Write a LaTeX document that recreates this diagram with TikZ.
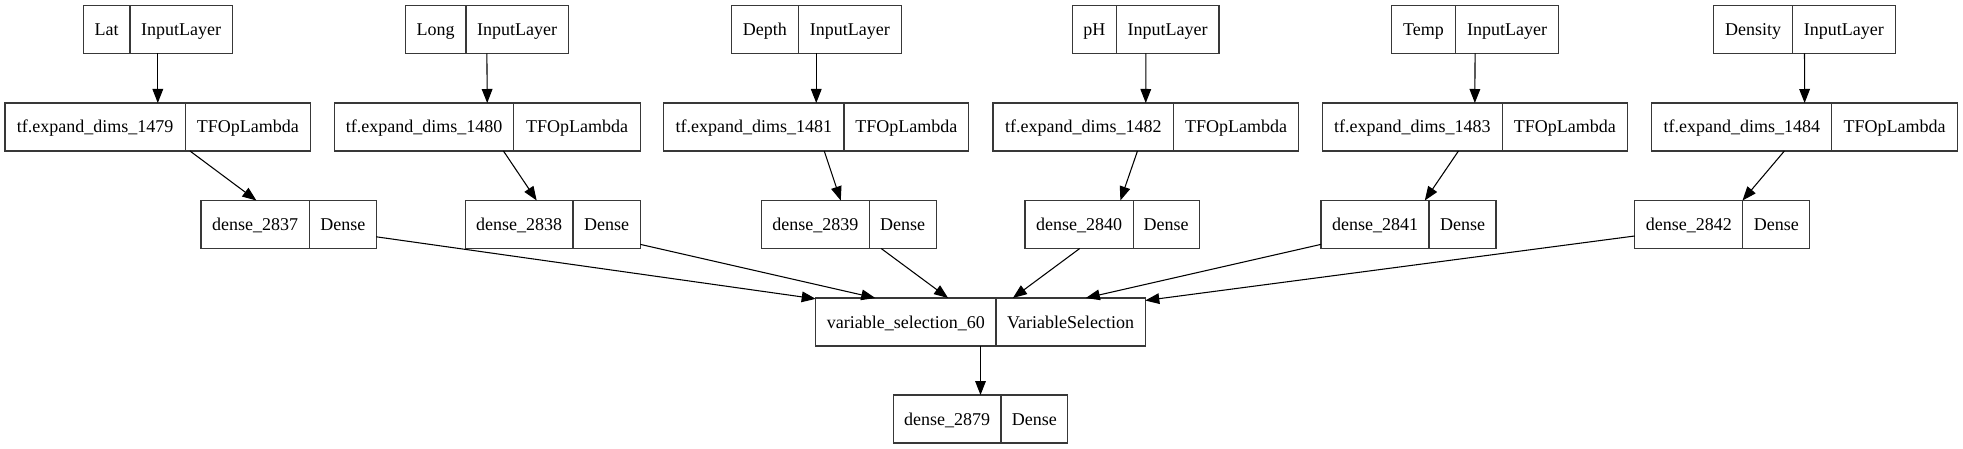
\documentclass[tikz,border=0pt]{standalone}
\usepackage{fontspec}
\setmainfont{Liberation Serif}
\usetikzlibrary{arrows.meta,fit}
\tikzset{
  recbox/.style={draw=black!78, line width=0.85pt, inner sep=0pt, outer sep=0pt},
  recline/.style={draw=black!78, line width=0.85pt},
  rectext/.style={anchor=base, inner sep=0pt, font=\fontsize{13.5}{16}\selectfont},
  conn/.style={draw=black, line width=0.8pt, -{Triangle[length=10.5pt,width=8pt]}},
}
% #1 name, #2 left x, #3 divider x, #4 right x, #5 top y, #6 left text, #7 right text
\newcommand\record[7]{%
  \node[recbox, fit={(#2,#5) (#4,#5+48)}] (#1) {};
  \draw[recline] (#3,#5) -- (#3,#5+48);
  \node[rectext] (#1-a) at ({(#2+#3)/2},#5+30) {#6};
  \node[rectext] (#1-b) at ({(#3+#4)/2},#5+30) {#7};
}
\begin{document}
\begin{tikzpicture}[x=0.75pt,y=-0.75pt]
\useasboundingbox (0,0) rectangle (1963,449);

\record{lat}{83.3}{130}{232.3}{5.5}{Lat}{InputLayer}
\record{long}{405.3}{466}{568.2}{5.5}{Long}{InputLayer}
\record{depth}{731.2}{798.6}{901.3}{5.5}{Depth}{InputLayer}
\record{ph}{1072.6}{1116.3}{1219}{5.5}{pH}{InputLayer}
\record{temp}{1391.4}{1455.4}{1558.9}{5.5}{Temp}{InputLayer}
\record{dens}{1713.7}{1792.6}{1895.2}{5.5}{Density}{InputLayer}

\record{ta}{5}{185.3}{310.6}{103}{tf.expand\_dims\_1479}{TFOpLambda}
\record{tb}{334.5}{513.9}{640.2}{103}{tf.expand\_dims\_1480}{TFOpLambda}
\record{tc}{663.9}{844}{968.6}{103}{tf.expand\_dims\_1481}{TFOpLambda}
\record{td}{993}{1173.5}{1298.5}{103}{tf.expand\_dims\_1482}{TFOpLambda}
\record{te}{1322.4}{1502.5}{1627.1}{103}{tf.expand\_dims\_1483}{TFOpLambda}
\record{tf}{1651.8}{1831.7}{1957.5}{103}{tf.expand\_dims\_1484}{TFOpLambda}

\record{da}{201}{309.3}{376.2}{200.5}{dense\_2837}{Dense}
\record{db}{465.3}{573}{640.3}{200.5}{dense\_2838}{Dense}
\record{dc}{761.4}{869.2}{936.1}{200.5}{dense\_2839}{Dense}
\record{dd}{1025}{1133.2}{1199.2}{200.5}{dense\_2840}{Dense}
\record{de}{1321}{1429}{1496}{200.5}{dense\_2841}{Dense}
\record{df}{1634.7}{1742.9}{1809.7}{200.5}{dense\_2842}{Dense}

\record{vs}{815.7}{996}{1145.3}{298}{variable\_selection\_60}{VariableSelection}
\record{out}{893.3}{1001}{1067.7}{395}{dense\_2879}{Dense}

\draw[conn] (lat) -- (ta);
\draw[conn] (long) -- (tb);
\draw[conn] (depth) -- (tc);
\draw[conn] (ph) -- (td);
\draw[conn] (temp) -- (te);
\draw[conn] (dens) -- (tf);

\draw[conn] (ta) -- (da);
\draw[conn] (tb) -- (db);
\draw[conn] (tc) -- (dc);
\draw[conn] (td) -- (dd);
\draw[conn] (te) -- (de);
\draw[conn] (tf) -- (df);

\draw[conn] (da) -- (vs);
\draw[conn] (db) -- (vs);
\draw[conn] (dc) -- (vs);
\draw[conn] (dd) -- (vs);
\draw[conn] (de) -- (vs);
\draw[conn] (df) -- (vs);

\draw[conn] (vs) -- (out);
\end{tikzpicture}
\end{document}
